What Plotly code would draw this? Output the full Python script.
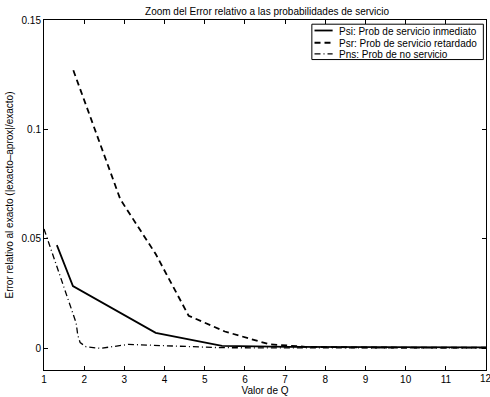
import plotly.graph_objects as go

# Data
q_psi = [1.32, 1.72, 3.78, 5.43, 7.1, 9.0, 12.0]
e_psi = [0.0471, 0.0284, 0.0070, 0.0010, 0.0006, 0.0004, 0.0003]

q_psr = [1.73, 2.9, 3.78, 4.6, 5.5, 6.6, 7.5, 9.0, 12.0]
e_psr = [0.127, 0.068, 0.043, 0.0148, 0.0076, 0.0018, 0.0006, 0.0003, 0.0002]

q_pns = [1.0, 1.8, 1.84, 1.9, 2.05, 2.4, 3.1, 3.8, 4.4, 5.4, 7.0, 12.0]
e_pns = [0.0545, 0.0115, 0.0060, 0.0025, 0.0006, -0.0001, 0.0017, 0.0013, 0.0010, 0.0002, 0.0001, 0.0001]

names = ["Psi: Prob de servicio inmediato",
         "Psr: Prob de servicio retardado",
         "Pns: Prob de no servicio"]

x_ticks = list(range(1, 13))
y_ticks = [0, 0.05, 0.1, 0.15]
y_ticklabels = ["0", "0.05", "0.1", "0.15"]

FONT = "Liberation Sans, Arial, Helvetica, sans-serif"

styles = [dict(color="black", width=1.8, dash="solid"),
          dict(color="black", width=1.8, dash="6px,4px"),
          dict(color="black", width=1.3, dash="6px,3px,1px,3px")]

fig = go.Figure()
for qx, ey, nm, st in zip([q_psi, q_psr, q_pns], [e_psi, e_psr, e_pns], names, styles):
    fig.add_trace(go.Scatter(x=qx, y=ey, mode="lines", name=nm, line=st,
                             showlegend=False))

# Compact MATLAB-style legend box (paper coordinates)
lx0, lx1, ly0, ly1 = 0.606, 0.994, 0.887, 0.988
fig.add_shape(type="rect", xref="paper", yref="paper", x0=lx0, x1=lx1, y0=ly0, y1=ly1,
              line=dict(color="black", width=1), fillcolor="white", layer="below")
row_y = [0.967, 0.932, 0.900]
for ry, nm, st in zip(row_y, names, styles):
    fig.add_shape(type="line", xref="paper", yref="paper", x0=0.612, x1=0.653,
                  y0=ry + 0.003, y1=ry + 0.003, line=st, layer="above")
    fig.add_annotation(xref="paper", yref="paper", x=0.662, y=ry, text=nm,
                       showarrow=False, xanchor="left", yanchor="middle",
                       font=dict(size=10, family=FONT, color="black"))

# last x tick label (clipped at the page edge as in the reference)
fig.add_annotation(xref="x", yref="paper", x=x_ticks[-1], y=-0.0243, text=str(x_ticks[-1]),
                   showarrow=False, xanchor="center", yanchor="middle",
                   font=dict(size=10, family=FONT, color="black"))

fig.update_layout(
    width=490, height=397,
    margin=dict(l=44, r=4, t=20, b=27),
    paper_bgcolor="white", plot_bgcolor="white",
    font=dict(family=FONT, size=10, color="black"),
    title=dict(text="Zoom del Error relativo a las probabilidades de servicio",
               x=0.545, xanchor="center", y=0.972, yanchor="middle",
               font=dict(size=10, family=FONT, color="black")),
    showlegend=False,
)
fig.update_xaxes(range=[1, 12], tickvals=x_ticks, ticks="inside", ticklen=4,
                 tickcolor="black", showline=True, linecolor="black", linewidth=1,
                 mirror="ticks", showgrid=False, zeroline=False,
                 title=dict(text="Valor de Q", standoff=2, font=dict(size=10)),
                 tickfont=dict(size=10))
fig.update_yaxes(range=[-0.01, 0.15], tickvals=y_ticks, ticktext=y_ticklabels,
                 ticks="inside", ticklen=4, tickcolor="black", showline=True,
                 linecolor="black", linewidth=1, mirror="ticks", showgrid=False,
                 zeroline=False,
                 title=dict(text="Error relativo al exacto (|exacto–aprox|/exacto)",
                            standoff=6, font=dict(size=10)),
                 tickfont=dict(size=10))

fig.write_html("out.html")
